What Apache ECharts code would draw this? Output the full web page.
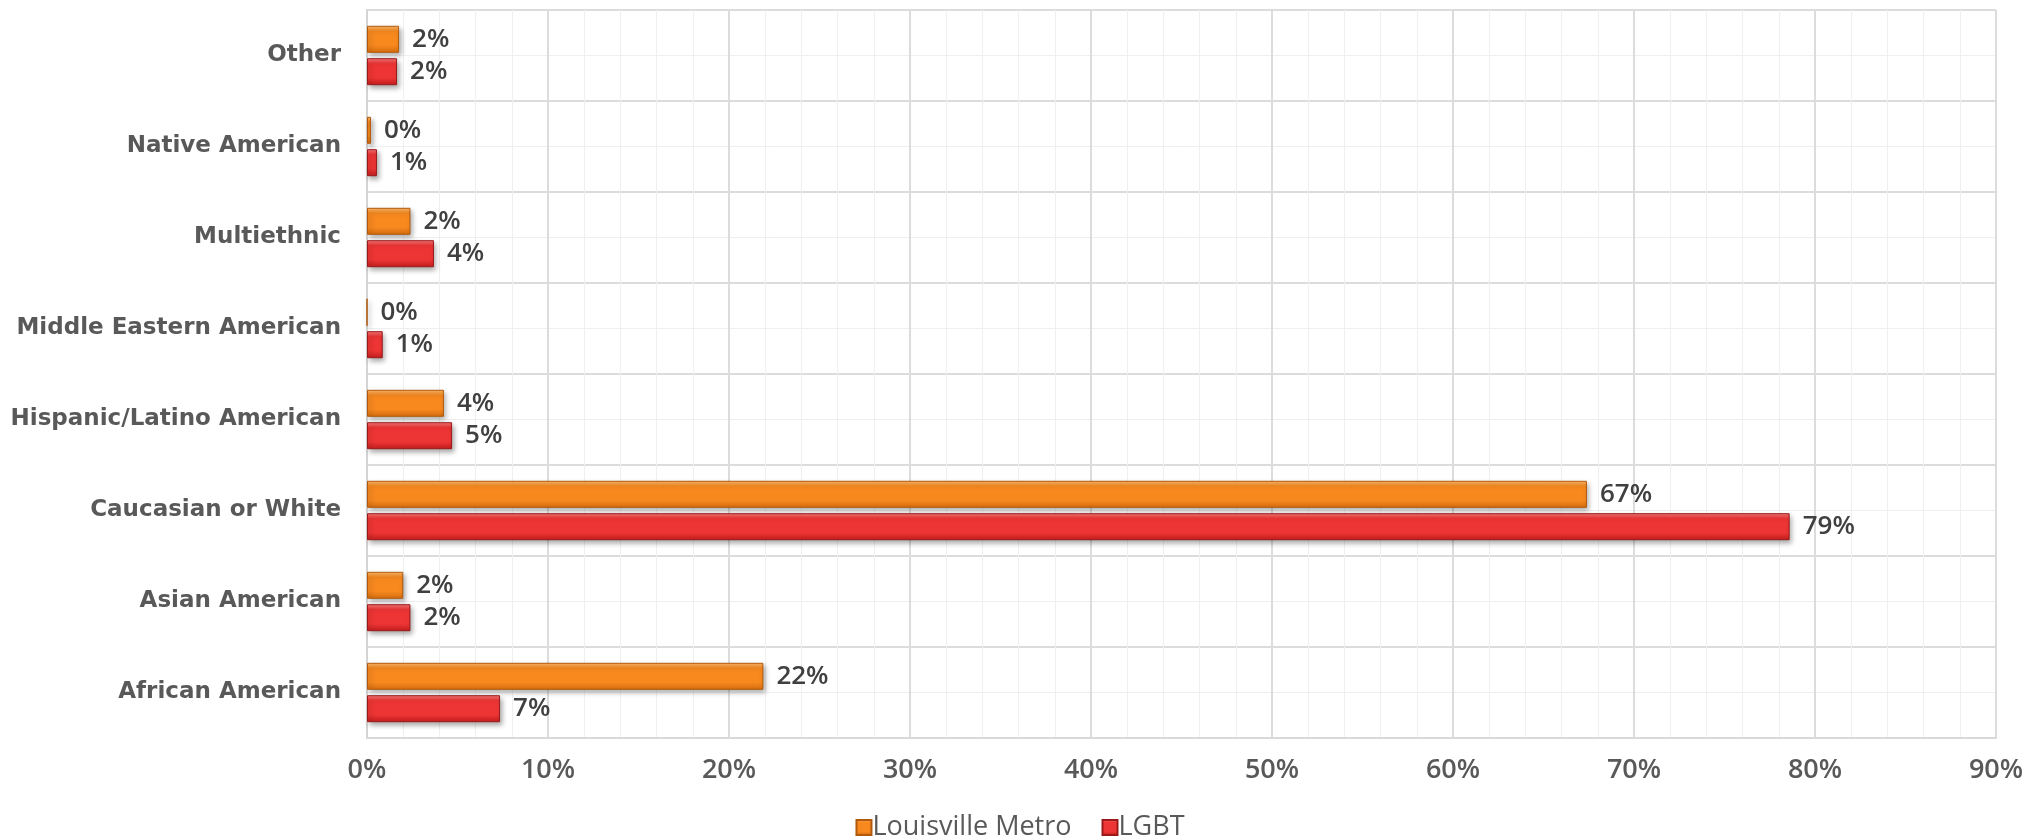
<!DOCTYPE html>
<html>
<head>
<meta charset="utf-8">
<title>Race / Ethnicity: Louisville Metro vs LGBT</title>
<script src="https://cdn.jsdelivr.net/npm/echarts@6/dist/echarts.min.js"></script>
<style>
  html, body { margin: 0; padding: 0; background: #ffffff; }
  #chart { width: 2040px; height: 838px; }
</style>
</head>
<body>
<div id="chart"></div>
<script>
// Categories listed bottom-to-top (category axis grows upward)
const categories = [
  'African American',
  'Asian American',
  'Caucasian or White',
  'Hispanic/Latino American',
  'Middle Eastern American',
  'Multiethnic',
  'Native American',
  'Other'
];

// Share of population, in percent
const louisvilleMetro = [21.9, 2.0, 67.4, 4.25, 0.0, 2.4, 0.22, 1.77];
const lgbt            = [7.35, 2.4, 78.6, 4.7, 0.87, 3.7, 0.55, 1.66];

const seriesNames = ['Louisville Metro', 'LGBT'];

const xTicks = { min: 0, max: 90, interval: 10 };

const LABEL_FONT = '"Open Sans", "Liberation Sans", sans-serif';
const CATEGORY_FONT = '"DejaVu Sans", "Open Sans", sans-serif';

function bevel(light, mid, dark) {
  return new echarts.graphic.LinearGradient(0, 0, 0, 1, [
    { offset: 0, color: light },
    { offset: 0.2, color: mid },
    { offset: 0.72, color: mid },
    { offset: 1, color: dark }
  ]);
}

const orangeFill = bevel('#fdbb6e', '#f7891f', '#d46c0e');
const redFill = bevel('#f87a7a', '#ee3535', '#c21d1d');

function barSeries(name, values, fill, border) {
  return {
    name: name,
    type: 'bar',
    yAxisIndex: 0,
    data: values,
    barWidth: 27,
    barGap: '20%',
    itemStyle: {
      color: fill,
      borderColor: border,
      borderWidth: 1,
      shadowColor: 'rgba(0,0,0,0.35)',
      shadowBlur: 5,
      shadowOffsetX: 2,
      shadowOffsetY: 3
    },
    label: {
      show: true,
      position: 'right',
      distance: 13,
      color: '#404040',
      fontFamily: LABEL_FONT,
      fontWeight: 600,
      fontSize: 26,
      formatter: p => Math.round(p.value) + '%'
    },
    emphasis: { disabled: true }
  };
}

const chart = echarts.init(document.getElementById('chart'), null, { renderer: 'canvas' });

chart.setOption({
  backgroundColor: '#ffffff',
  animation: false,
  grid: { left: 367, right: 44, top: 10, bottom: 100, containLabel: false },
  legend: {
    data: seriesNames,
    left: 'center',
    top: 809,
    icon: 'rect',
    itemWidth: 15,
    itemHeight: 15,
    itemGap: 30,
    textStyle: {
      color: '#595959',
      fontFamily: LABEL_FONT,
      fontSize: 27,
      padding: [0, 0, 0, -4]
    }
  },
  xAxis: {
    type: 'value',
    min: xTicks.min,
    max: xTicks.max,
    interval: xTicks.interval,
    axisLine: { show: true, lineStyle: { color: '#d9d9d9', width: 2 } },
    axisTick: { show: false },
    axisLabel: {
      formatter: '{value}%',
      color: '#595959',
      fontFamily: LABEL_FONT,
      fontWeight: 600,
      fontSize: 27,
      margin: 19
    },
    splitLine: { show: true, lineStyle: { color: '#dcdcdc', width: 2 } },
    minorTick: { show: false, splitNumber: 5 },
    minorSplitLine: { show: true, lineStyle: { color: '#efefef', width: 1 } }
  },
  yAxis: [
    {
      type: 'category',
      data: categories,
      axisLine: { show: true, lineStyle: { color: '#d4d4d4', width: 2 } },
      axisTick: { show: false },
      axisLabel: {
        color: '#595959',
        fontFamily: CATEGORY_FONT,
        fontWeight: 'bold',
        fontSize: 23,
        margin: 26
      },
      splitLine: { show: false }
    },
    {
      // Lines between categories and through the middle of each band
      type: 'value',
      min: 0,
      max: categories.length,
      interval: 1,
      position: 'left',
      axisLine: { show: false },
      axisTick: { show: false },
      axisLabel: { show: false },
      splitLine: { show: true, lineStyle: { color: '#dcdcdc', width: 2 } },
      minorTick: { show: false, splitNumber: 2 },
      minorSplitLine: { show: true, lineStyle: { color: '#efefef', width: 1 } }
    }
  ],
  series: [
    barSeries(seriesNames[0], louisvilleMetro, orangeFill, '#b25a0c'),
    barSeries(seriesNames[1], lgbt, redFill, '#9a1a1a')
  ]
});
</script>
</body>
</html>
